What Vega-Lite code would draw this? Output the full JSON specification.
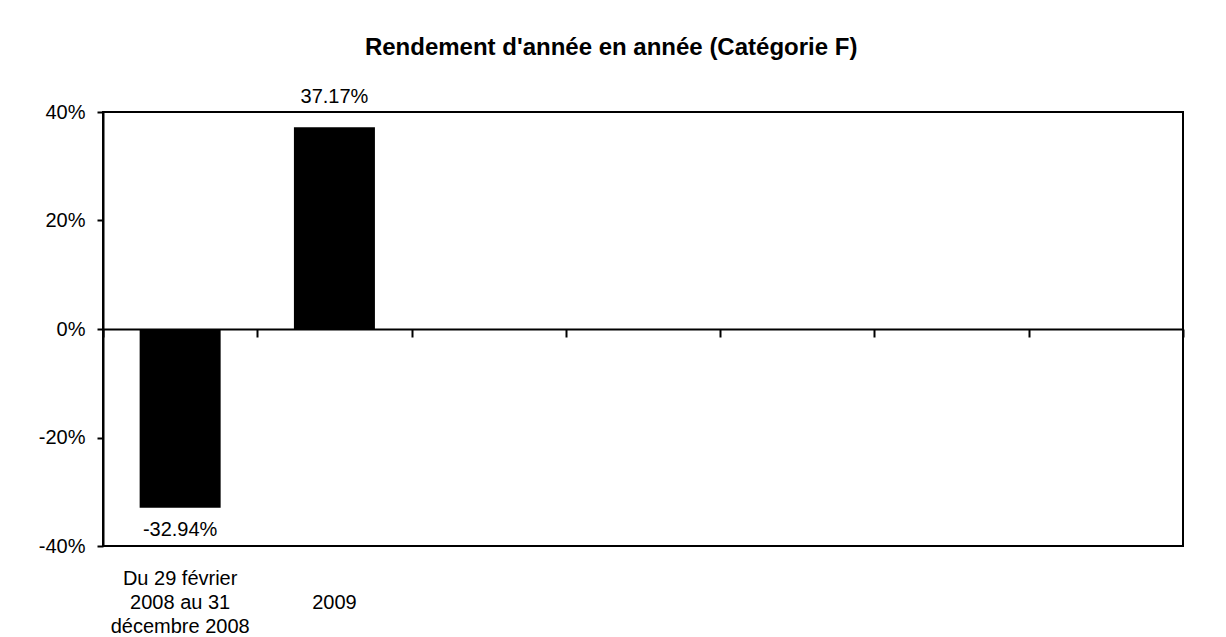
{
  "$schema": "https://vega.github.io/schema/vega-lite/v6.json",
  "width": 1080,
  "height": 434,
  "autosize": {"type": "none"},
  "padding": {"left": 103, "top": 112, "right": 43, "bottom": 91},
  "background": "white",
  "title": {
    "text": "Rendement d'année en année (Catégorie F)",
    "font": "Liberation Sans",
    "fontSize": 24,
    "fontWeight": "bold",
    "color": "black",
    "anchor": "middle",
    "frame": "bounds",
    "offset": 27
  },
  "data": {
    "values": [
      {"periode": "Du 29 février 2008 au 31 décembre 2008", "rendement": -0.3294},
      {"periode": "2009", "rendement": 0.3717}
    ]
  },
  "encoding": {
    "x": {
      "field": "periode",
      "type": "nominal",
      "sort": null,
      "scale": {
        "domain": ["Du 29 février 2008 au 31 décembre 2008", "2009", "_3", "_4", "_5", "_6", "_7"],
        "paddingInner": 0,
        "paddingOuter": 0
      }
    },
    "y": {
      "field": "rendement",
      "type": "quantitative",
      "scale": {"domain": [-0.4, 0.4], "nice": false, "zero": false},
      "axis": {
        "values": [-0.4, -0.2, 0, 0.2, 0.4],
        "format": ".0%",
        "title": null,
        "grid": false,
        "domain": true,
        "domainColor": "black",
        "domainWidth": 2,
        "ticks": true,
        "tickColor": "black",
        "tickWidth": 2,
        "tickSize": 6,
        "labelFont": "Liberation Sans",
        "labelFontSize": 20,
        "labelColor": "black",
        "labelPadding": 12
      }
    }
  },
  "layer": [
    {
      "mark": {"type": "bar", "color": "black", "width": {"band": 0.525}},
      "encoding": {
        "x": {
          "field": "periode",
          "type": "nominal",
          "sort": null,
          "axis": {
            "orient": "bottom",
            "title": null,
            "labelAngle": 0,
            "ticks": false,
            "domain": false,
            "grid": false,
            "labelFont": "Liberation Sans",
            "labelFontSize": 20,
            "labelColor": "black",
            "labelPadding": 22,
            "labelLineHeight": 24,
            "labelBaseline": "top",
            "labelExpr": "datum.value == 'Du 29 février 2008 au 31 décembre 2008' ? ['Du 29 février', '2008 au 31', 'décembre 2008'] : (datum.value == '2009' ? ['', '2009'] : '')"
          }
        }
      }
    },
    {
      "transform": [{"filter": "datum.rendement > 0"}],
      "mark": {"type": "text", "font": "Liberation Sans", "fontSize": 20, "color": "black", "baseline": "alphabetic", "dy": -24},
      "encoding": {
        "x": {
          "field": "periode",
          "type": "nominal",
          "sort": null,
          "axis": {
            "orient": "top",
            "offset": -217,
            "title": null,
            "labels": false,
            "grid": false,
            "domain": true,
            "domainColor": "black",
            "domainWidth": 2,
            "ticks": true,
            "tickBand": "extent",
            "tickColor": "black",
            "tickWidth": 2,
            "tickSize": -8
          }
        },
        "text": {"field": "rendement", "type": "quantitative", "format": ".2%"}
      }
    },
    {
      "transform": [{"filter": "datum.rendement < 0"}],
      "mark": {"type": "text", "font": "Liberation Sans", "fontSize": 20, "color": "black", "baseline": "alphabetic", "dy": 28},
      "encoding": {
        "x": {"field": "periode", "type": "nominal", "sort": null, "axis": null},
        "text": {"field": "rendement", "type": "quantitative", "format": ".2%"}
      }
    }
  ],
  "resolve": {"axis": {"x": "independent"}},
  "config": {
    "view": {"stroke": "black", "strokeWidth": 2},
    "locale": {"number": {"decimal": ".", "thousands": ",", "grouping": [3], "currency": ["$", ""], "minus": "-"}}
  }
}
